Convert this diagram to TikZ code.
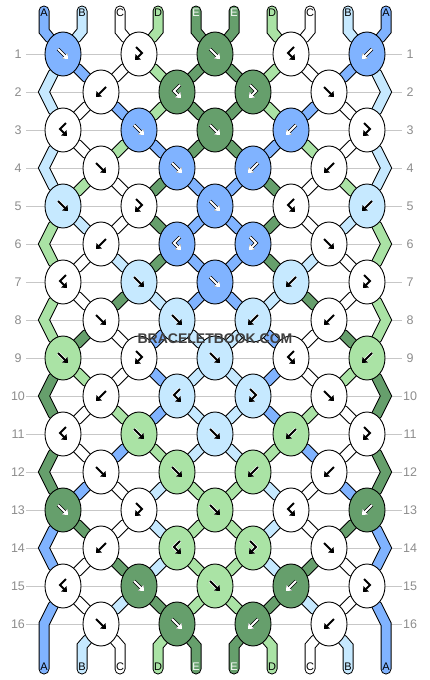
\documentclass[tikz,border=0pt]{standalone}
\usepackage{fontspec}
\setmainfont{Liberation Sans}
\usetikzlibrary{shapes.geometric,arrows.meta}
\definecolor{cA}{HTML}{80B3FF}
\definecolor{cB}{HTML}{C6E9FF}
\definecolor{cC}{HTML}{FFFFFF}
\definecolor{cD}{HTML}{AAE3A5}
\definecolor{cE}{HTML}{669F6C}
\pgfdeclarelayer{bg}
\pgfsetlayers{bg,main}
% arrow colour and its rim, per knot colour
\def\fgA{white}\def\fgB{black}\def\fgC{black}\def\fgD{black}\def\fgE{white}
\def\olA{black}\def\olB{white}\def\olC{white}\def\olD{white}\def\olE{black}
% letter colour on the string ends
\def\ltA{black}\def\ltB{black}\def\ltC{black}\def\ltD{black}\def\ltE{white}
% knot glyphs: forward, backward, forward-backward, backward-forward
\def\gF{(-5,-5) -- (5,5)}
\def\gB{(5,-5) -- (-5,5)}
\def\gFB{(-3,-7) -- (3,-1) -- (-4,6)}
\def\gBF{(3,-7) -- (-3,-1) -- (4,6)}
% name of the point that holds position #2 in row #1
\newcommand\knotof[2]{%
  \ifnum#1=0 \edef\kn{neck#2}%
  \else\ifnum#1=17 \edef\kn{heel#2}%
  \else\ifodd#1 \pgfmathtruncatemacro\kx{(#2+1)/2}\edef\kn{k#1-\kx}%
  \else\ifnum#2=1 \edef\kn{k#1-L}%
  \else\ifnum#2=10 \edef\kn{k#1-R}%
  \else\pgfmathtruncatemacro\kx{#2/2}\edef\kn{k#1-\kx}%
  \fi\fi\fi\fi\fi}
\begin{document}
\begin{tikzpicture}[x=1pt,y=-1pt,
    knot/.style={ellipse,draw=black,line width=0.9pt,minimum width=36pt,minimum height=44pt,inner sep=0pt},
    glyph/.style={line width=2pt,-{Triangle[length=4.5pt,width=7.5pt]}},
    thread/.style={draw=black,line width=1pt,double=#1,double distance=9pt,line cap=round},
    rowlab/.style={text=black!45,font=\fontsize{12.5}{12.5}\selectfont,inner sep=0pt},
    strlab/.style={font=\fontsize{11}{11}\selectfont,inner sep=0pt},
    rowline/.style={draw=black!22,line width=0.9pt}]
  \useasboundingbox (0,0) rectangle (430,680);

  % row numbers
  \foreach \r in {1,...,16}{
    \node[rowlab] (ln\r) at (18,16+38*\r) {\r};
    \node[rowlab] (rn\r) at (410,16+38*\r) {\r};
  }

  % string ends and their letters
  \foreach \col [count=\p] in {A,B,C,D,E,E,D,C,B,A}{
    \pgfmathsetmacro\xx{6+38*\p}
    \edef\fg{\csname lt\col\endcsname}
    \coordinate (tip\p) at (\xx,11);
    \coordinate (neck\p) at (\xx,31);
    \coordinate (heel\p) at (\xx,646);
    \coordinate (toe\p) at (\xx,669);
    \node[strlab,text=\fg] (lt\p) at (\xx,13) {\col};
    \node[strlab,text=\fg] (lb\p) at (\xx,667) {\col};
  }

  % knots
  \foreach \r/\row in {
      1/{A/F,C/FB,E/F,C/BF,A/B},
      2/{C/B,E/BF,E/FB,C/F},
      3/{C/BF,A/F,E/F,A/B,C/FB},
      4/{C/F,A/F,A/B,C/B},
      5/{B/F,C/FB,A/F,C/BF,B/B},
      6/{C/B,A/BF,A/FB,C/F},
      7/{C/BF,B/F,A/F,B/B,C/FB},
      8/{C/F,B/F,B/B,C/B},
      9/{D/F,C/FB,B/F,C/BF,D/B},
      10/{C/B,B/BF,B/FB,C/F},
      11/{C/BF,D/F,B/F,D/B,C/FB},
      12/{C/F,D/F,D/B,C/B},
      13/{E/F,C/FB,D/F,C/BF,E/B},
      14/{C/B,D/BF,D/FB,C/F},
      15/{C/BF,E/F,D/F,E/B,C/FB},
      16/{C/F,E/F,E/B,C/B}}{
    \pgfmathtruncatemacro\odd{mod(\r,2)}
    \foreach \col/\ty [count=\n] in \row {
      \pgfmathsetmacro\xx{(\odd==1 ? 63 : 101)+76*(\n-1)}
      \node[knot,fill=c\col] (k\r-\n) at (\xx,16+38*\r) {};
      \expandafter\let\expandafter\gp\csname g\ty\endcsname
      \edef\fg{\csname fg\col\endcsname}
      \edef\ol{\csname ol\col\endcsname}
      \begin{scope}[shift={(k\r-\n.center)}]
        \draw[glyph,line width=3.4pt,draw=\ol] \gp;
        \draw[glyph,draw=\fg] \gp;
      \end{scope}
    }
    \ifnum\odd=0
      \coordinate (k\r-L) at (44,16+38*\r);
      \coordinate (k\r-R) at (386,16+38*\r);
    \fi
  }

  \begin{pgfonlayer}{bg}
    \foreach \r in {1,...,16}
      \draw[rowline] ([xshift=8pt]ln\r.center) -- ([xshift=-8pt]rn\r.center);
    % threads, colour of each position below row \r
    \foreach \r/\cols in {
        0/{A,B,C,D,E,E,D,C,B,A},
        1/{B,A,C,D,E,E,D,C,A,B},
        2/{B,C,A,D,E,E,D,A,C,B},
        3/{B,C,D,A,E,E,A,D,C,B},
        4/{B,D,C,E,A,A,E,C,D,B},
        5/{D,B,C,E,A,A,E,C,B,D},
        6/{D,C,B,E,A,A,E,B,C,D},
        7/{D,C,E,B,A,A,B,E,C,D},
        8/{D,E,C,A,B,B,A,C,E,D},
        9/{E,D,C,A,B,B,A,C,D,E},
        10/{E,C,D,A,B,B,A,D,C,E},
        11/{E,C,A,D,B,B,D,A,C,E},
        12/{E,A,C,B,D,D,B,C,A,E},
        13/{A,E,C,B,D,D,B,C,E,A},
        14/{A,C,E,B,D,D,B,E,C,A},
        15/{A,C,B,E,D,D,E,B,C,A},
        16/{A,B,C,D,E,E,D,C,B,A}}{
      \pgfmathtruncatemacro\rr{\r+1}
      \pgfmathtruncatemacro\rrr{\r+2}
      \foreach \col [count=\p] in \cols {
        \knotof{\r}{\p}\let\ka\kn
        \knotof{\rr}{\p}\let\kb\kn
        \ifnum\p=1 \def\edge{1}\else\ifnum\p=10 \def\edge{1}\else\def\edge{0}\fi\fi
        \ifnum\r=0
          \draw[thread=c\col] (tip\p) -- (neck\p) -- (\kb);
        \else\ifnum\edge=0
          \ifnum\r=16
            \draw[thread=c\col] (\ka) -- (\kb) -- (toe\p);
          \else
            \draw[thread=c\col] (\ka) -- (\kb);
          \fi
        \else\ifodd\r
          \knotof{\rrr}{\p}
          \ifnum\r=15
            \draw[thread=c\col] (\ka) -- (\kb) -- (toe\p);
          \else
            \draw[thread=c\col] (\ka) -- (\kb) -- (\kn);
          \fi
        \fi\fi\fi
      }
    }
  \end{pgfonlayer}

  \node[text=black!75,font=\bfseries\fontsize{14}{14}\selectfont] (mark) at (215,339) {BRACELETBOOK.COM};
\end{tikzpicture}
\end{document}
